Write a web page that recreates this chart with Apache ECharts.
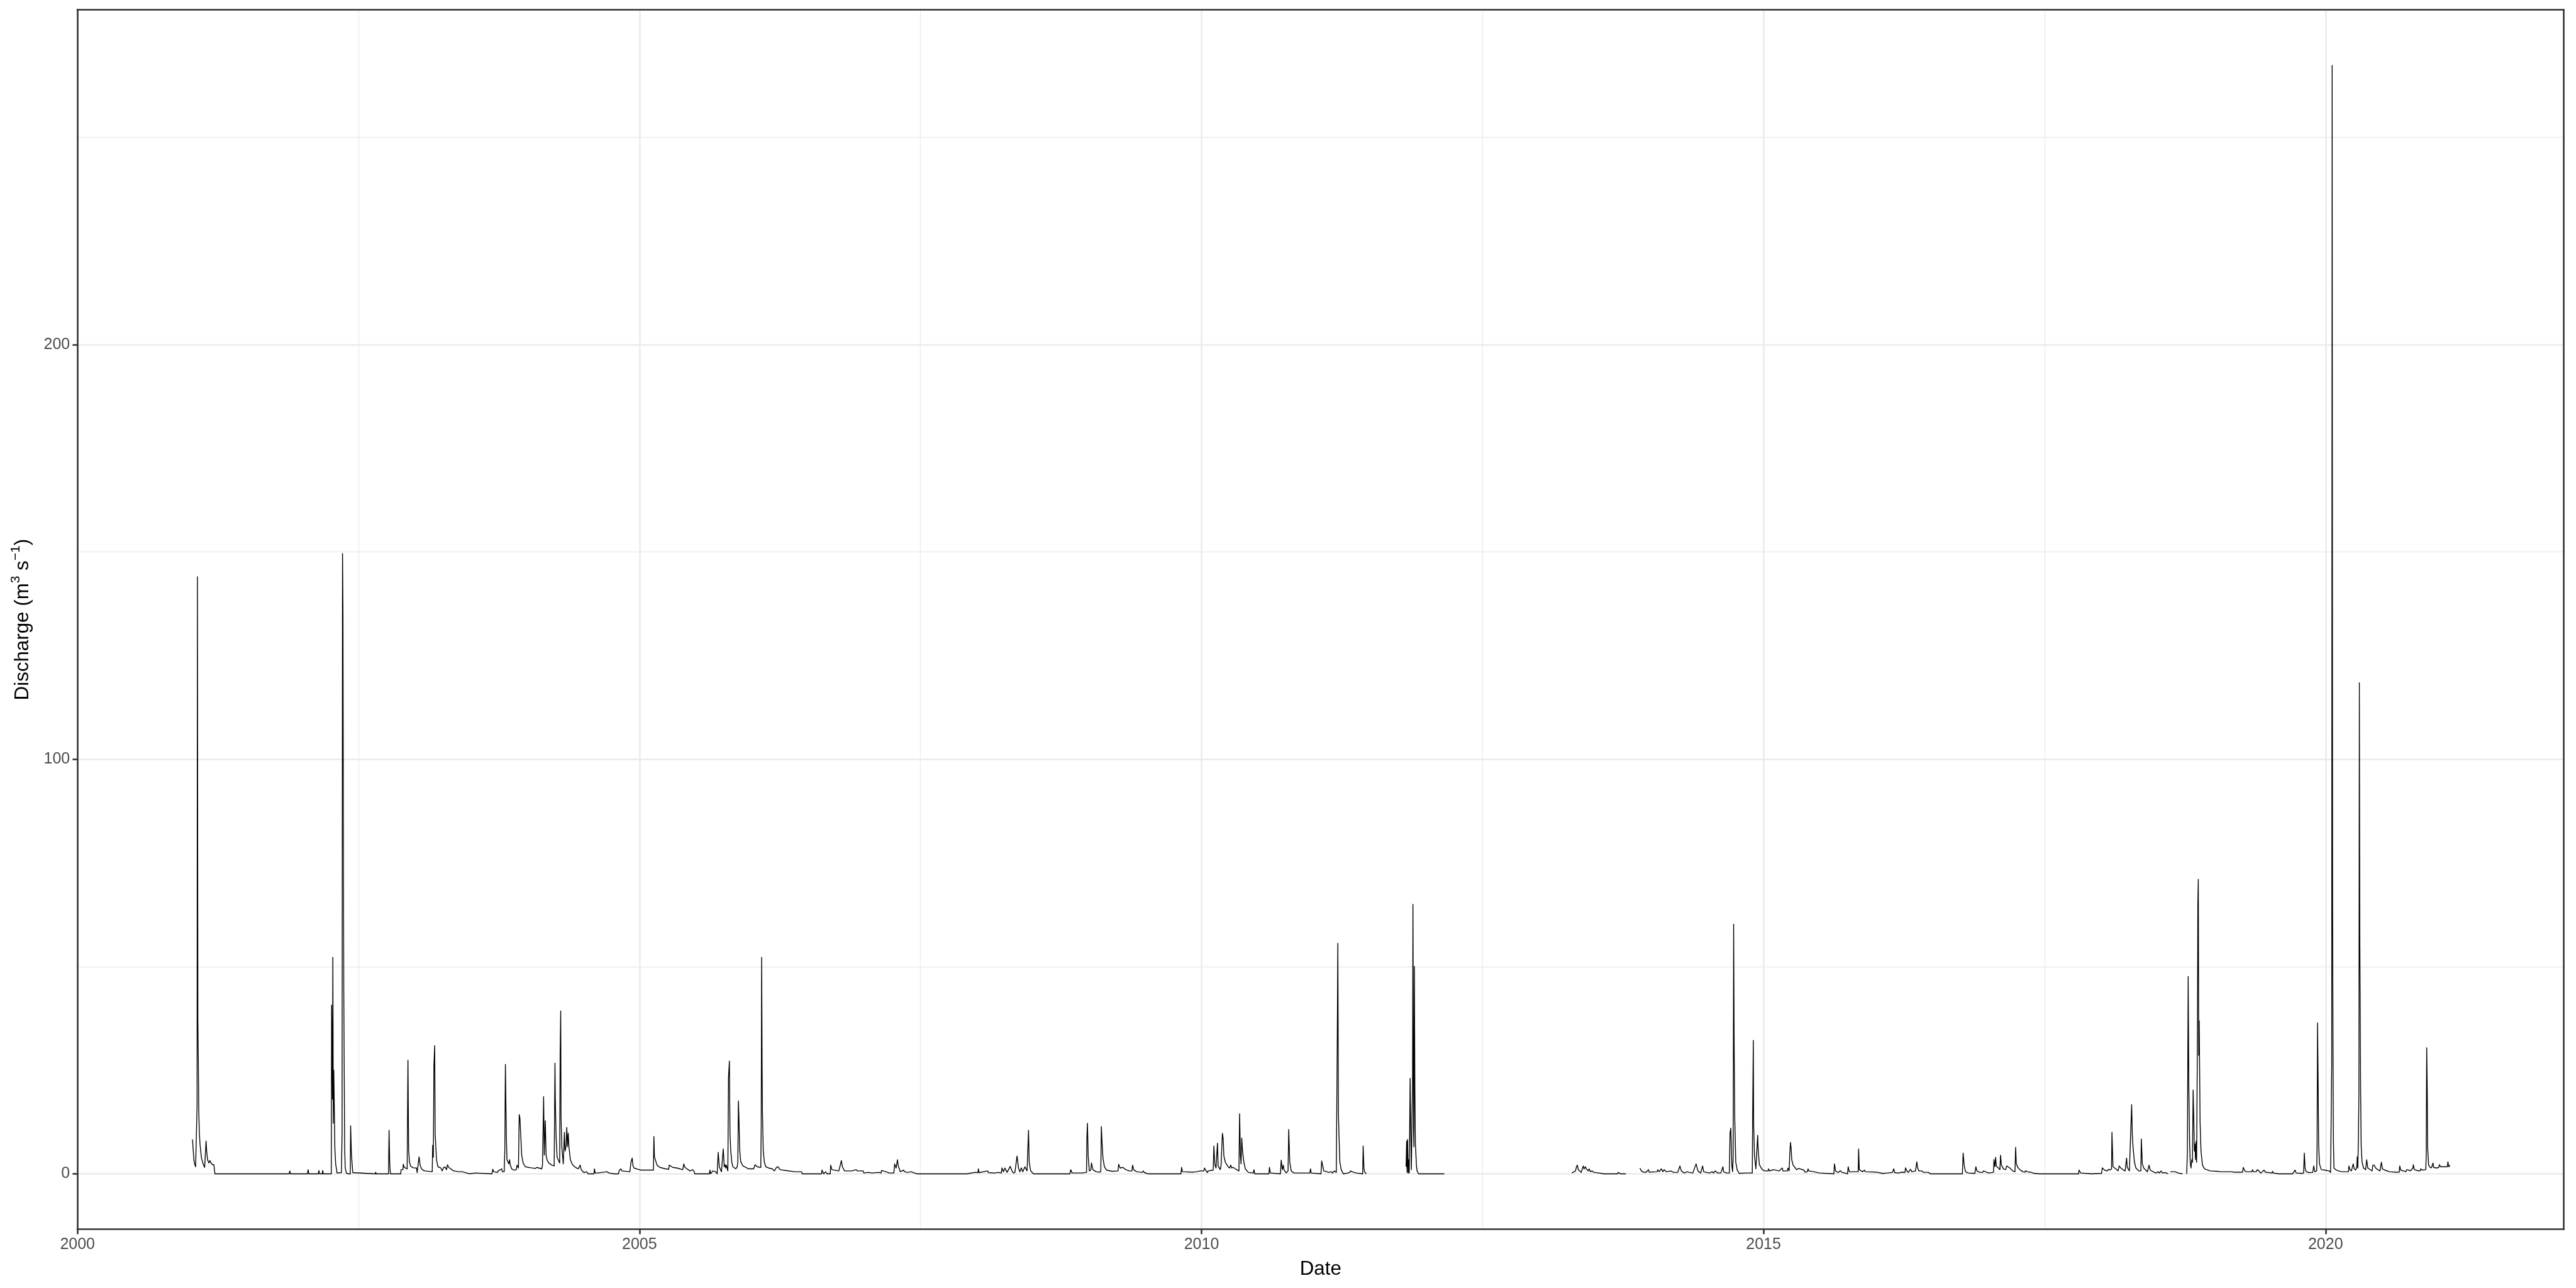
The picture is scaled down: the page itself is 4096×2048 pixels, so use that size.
<!DOCTYPE html>
<html><head><meta charset="utf-8">
<script src="https://cdn.jsdelivr.net/npm/echarts@6/dist/echarts.min.js"></script>
<style>html,body{margin:0;padding:0;background:#fff}#c{width:4096px;height:2048px}</style>
</head><body><div id="c"></div>
<script>
const FONT = '"Liberation Sans", Arial, Helvetica, sans-serif';

// axis breaks / labels
const xTickValues = [2000, 2005, 2010, 2015, 2020];
const xMinorValues = [2002.5, 2007.5, 2012.5, 2017.5];
const yTickValues = [0, 100, 200];
const yMinorValues = [50, 150, 250];
const xTitle = 'Date';
const yTitle = '{b|Discharge (m}{s|3}{b| s}{s|\u22121}{b|)}';

// observations: [decimal year, discharge m3/s]
const flow2001_2002 = [[2001.023,8.3],[2001.036,3.3],[2001.042,2.4],[2001.051,1.7],[2001.060,1.8],[2001.064,16.5],[2001.067,144],[2001.071,36.7],[2001.075,27.6],[2001.079,15.0],[2001.084,10.0],[2001.090,7.2],[2001.103,3.8],[2001.118,2.4],[2001.131,1.55],[2001.140,1.4],[2001.144,7.9],[2001.149,5.5],[2001.157,3.4],[2001.169,2.6],[2001.178,3.2],[2001.188,2.6],[2001.201,2.2],[2001.214,2.2],[2001.218,1.0],[2001.223,0],[2001.883,0],[2001.889,0.7],[2001.895,0],
[2002.046,0],[2002.052,1.0],[2002.058,0],[2002.142,0],[2002.148,0.8],[2002.153,0],[2002.177,0],[2002.182,0.8],[2002.187,0],[2002.258,0],[2002.261,40.7],[2002.265,30.7],[2002.269,18],[2002.272,52.2],[2002.276,12.2],[2002.280,25],[2002.285,15.9],[2002.290,6],[2002.297,2.4],[2002.309,0.2],[2002.348,0.3],[2002.354,10],[2002.358,149.6],[2002.362,135.4],[2002.365,91],[2002.369,44.5],[2002.373,24.5],[2002.377,6.2],[2002.382,1.4],[2002.392,0.2],[2002.405,0],[2002.427,0],[2002.430,11.6],[2002.437,4.8],[2002.443,5.0],[2002.449,0.3],[2002.456,0],[2002.649,0],[2002.653,0.4],[2002.657,0],[2002.767,0],[2002.772,10.5],[2002.778,2.4],[2002.784,0],[2002.876,0],[2002.879,1.0],[2002.895,1.0],[2002.899,2.3],[2002.908,1.55],[2002.933,1.2],[2002.940,27.4],[2002.946,5.9],[2002.953,2.9],[2002.965,1.8],[2002.988,1.45]];

const flow2003_2004 = [[2003.016,1.4],[2003.022,0.3],[2003.031,0.5],[2003.039,4.1],[2003.048,2.1],[2003.061,1.2],[2003.073,0.9],[2003.080,1.2],[2003.092,0.7],[2003.156,0.5],[2003.160,6.9],[2003.166,4.0],[2003.171,26],[2003.178,30.9],[2003.182,9.5],[2003.188,6.7],[2003.194,3.4],[2003.207,1.7],[2003.233,1.4],[2003.245,0.7],[2003.258,1.55],[2003.271,1.65],[2003.283,1.0],[2003.292,2.2],[2003.303,1.55],[2003.347,0.7],[2003.398,0.5],[2003.424,0.5],[2003.487,0],[2003.538,0.2],[2003.545,0],[2003.687,0],[2003.695,1.1],[2003.704,0.5],[2003.736,0.35],[2003.742,0.7],[2003.774,1.2],[2003.780,0.5],[2003.796,0.5],[2003.802,5.7],[2003.807,26.4],[2003.812,16],[2003.816,8.6],[2003.821,3.4],[2003.827,3.3],[2003.838,2.4],[2003.844,3.4],[2003.850,2.2],[2003.863,1.2],[2003.882,0.9],[2003.904,1.0],[2003.910,2.1],[2003.923,1.4],[2003.930,14.3],[2003.936,13.4],[2003.942,10.2],[2003.952,4.5],[2003.965,2.6],[2003.984,1.7],
[2004.035,1.45],[2004.073,1.3],[2004.086,1.55],[2004.130,1.2],[2004.137,2.1],[2004.147,18.6],[2004.153,4.5],[2004.162,12.8],[2004.169,4.5],[2004.178,3.3],[2004.194,2.6],[2004.220,2.1],[2004.241,1.9],[2004.248,26.7],[2004.251,18.3],[2004.258,9.0],[2004.267,4.0],[2004.277,3.4],[2004.290,2.6],[2004.294,29.1],[2004.299,39.3],[2004.302,13.6],[2004.309,6.4],[2004.322,2.4],[2004.328,2.4],[2004.332,10.0],[2004.338,5.5],[2004.347,6.6],[2004.353,11.2],[2004.360,6.6],[2004.366,9.8],[2004.372,6.6],[2004.385,3.4],[2004.404,2.2],[2004.430,1.55],[2004.455,1.2],[2004.472,2.1],[2004.481,1.0],[2004.506,0.3],[2004.529,0.5],[2004.544,0],[2004.595,0],[2004.599,1.2],[2004.606,0.2],[2004.627,0.2],[2004.710,0.5],[2004.729,0.2],[2004.774,0],[2004.814,0],[2004.818,0.7],[2004.834,1.2],[2004.844,0.7],[2004.914,0.5],[2004.924,2.8],[2004.935,3.8],[2004.942,1.9],[2004.952,1.4],[2004.984,1.1],[2005.013,0.9]];

const flow2005_2006 = [[2005.041,0.9],[2005.124,0.9],[2005.128,9.0],[2005.133,4.1],[2005.143,4.0],[2005.156,2.1],[2005.181,1.55],[2005.232,1.2],[2005.260,1.1],[2005.264,2.1],[2005.296,1.55],[2005.334,1.4],[2005.385,1.0],[2005.394,2.4],[2005.404,1.55],[2005.449,0.7],[2005.474,1.0],[2005.487,0.5],[2005.491,0],[2005.621,0],[2005.627,0.9],[2005.633,0],[2005.652,0.7],[2005.678,0.5],[2005.691,0],[2005.700,5.2],[2005.710,1.7],[2005.729,0.5],[2005.739,0.7],[2005.745,6.0],[2005.754,1.7],[2005.761,2.2],[2005.767,1.4],[2005.773,2.1],[2005.786,0.7],[2005.792,23.4],[2005.800,27.2],[2005.805,9.8],[2005.812,5.5],[2005.821,2.8],[2005.831,1.7],[2005.856,1.2],[2005.869,1.7],[2005.875,2.8],[2005.880,17.6],[2005.885,13.1],[2005.892,5.5],[2005.901,2.9],[2005.920,1.9],[2005.945,1.55],[2005.971,1.2],
[2006.015,1.2],[2006.028,2.2],[2006.047,1.7],[2006.079,1.55],[2006.083,11.4],[2006.087,52.2],[2006.091,25.3],[2006.094,14.7],[2006.101,5.5],[2006.111,2.8],[2006.124,1.7],[2006.149,1.4],[2006.181,1.2],[2006.200,0.7],[2006.219,1.55],[2006.232,1.7],[2006.251,1.0],[2006.315,0.75],[2006.378,0.5],[2006.442,0.5],[2006.448,0],[2006.620,0],[2006.624,0.9],[2006.639,0],[2006.656,0.5],[2006.669,0],[2006.697,0],[2006.701,2.1],[2006.712,1.0],[2006.773,0.7],[2006.780,1.4],[2006.796,3.2],[2006.805,1.7],[2006.824,0.7],[2006.888,0.7],[2006.926,1.0],[2006.939,0.7],[2006.990,0.7],[2006.996,0.2]];

const flow2007_2008 = [[2007.038,0.35],[2007.066,0.2],[2007.130,0.35],[2007.149,0.2],[2007.153,0.8],[2007.162,0.5],[2007.206,0.4],[2007.219,0.2],[2007.263,0.2],[2007.270,2.4],[2007.276,2.1],[2007.283,1.4],[2007.295,3.4],[2007.302,1.9],[2007.321,0.5],[2007.349,0.9],[2007.359,0.5],[2007.384,0.35],[2007.416,0.5],[2007.423,0.35],[2007.467,0],[2007.786,0],[2007.792,0.1],[2007.913,0],[2007.983,0.35],
[2008.011,0.3],[2008.015,1.2],[2008.021,0.3],[2008.098,0.7],[2008.104,0.3],[2008.161,0.2],[2008.193,0.35],[2008.219,0.2],[2008.225,1.45],[2008.238,0.5],[2008.251,1.4],[2008.270,0.35],[2008.298,1.8],[2008.314,0.7],[2008.327,0.2],[2008.340,0.35],[2008.359,4.3],[2008.372,1.4],[2008.384,0.5],[2008.397,1.45],[2008.410,0.5],[2008.429,1.7],[2008.448,0.7],[2008.457,1.0],[2008.461,10.5],[2008.467,2.8],[2008.480,0.7],[2008.505,0],[2008.830,0],[2008.836,1.0],[2008.849,0.2],[2008.938,0.2],[2008.977,0.35],[2008.980,8.6],[2008.985,12.2],[2008.992,4.1],[2009.002,0.7],[2009.015,0.9],[2009.021,2.6],[2009.034,1.0],[2009.063,0.5]];

const flow2009_2010 = [[2009.091,0.4],[2009.104,0.5],[2009.109,11.4],[2009.116,7.2],[2009.123,3.8],[2009.136,1.7],[2009.155,0.9],[2009.206,0.6],[2009.257,0.7],[2009.263,2.3],[2009.276,1.4],[2009.285,1.7],[2009.301,1.55],[2009.327,1.0],[2009.358,0.7],[2009.381,0.7],[2009.387,2.1],[2009.397,1.0],[2009.422,0.5],[2009.473,0.35],[2009.482,0.7],[2009.492,0.3],[2009.524,0],[2009.817,0],[2009.823,1.55],[2009.830,0.5],[2009.919,0.4],[2009.957,0.5],[2009.989,0.7],
[2010.021,0.7],[2010.027,1.4],[2010.040,0.75],[2010.053,0.3],[2010.059,0.7],[2010.104,0.9],[2010.110,6.7],[2010.119,2.2],[2010.129,1.4],[2010.142,7.4],[2010.148,1.9],[2010.167,1.0],[2010.174,2.1],[2010.180,2.4],[2010.186,9.8],[2010.193,8.4],[2010.199,4.3],[2010.212,2.8],[2010.225,2.2],[2010.237,1.7],[2010.250,1.4],[2010.260,2.1],[2010.269,1.4],[2010.282,1.55],[2010.301,1.2],[2010.333,0.7],[2010.339,14.5],[2010.346,4.5],[2010.352,2.4],[2010.358,8.6],[2010.365,5.5],[2010.377,2.8],[2010.390,1.2],[2010.416,0.35],[2010.460,0.2],[2010.467,1.0],[2010.473,0],[2010.600,0],[2010.604,1.55],[2010.613,0.2],[2010.702,0],[2010.709,3.3],[2010.719,1.0],[2010.728,2.1],[2010.734,1.0],[2010.753,0.2],[2010.770,0.7],[2010.776,10.7],[2010.785,2.8],[2010.798,0.7],[2010.823,0.2],[2010.906,0.2],[2010.912,0.4],[2010.963,0.2],[2010.970,1.2],[2010.976,0.2],[2011.063,0],[2011.069,3.1],[2011.088,0.7]];

const flow2011a = [[2011.116,0.5],[2011.129,0.35],[2011.154,0.5],[2011.167,0.2],[2011.180,0.7],[2011.199,0.35],[2011.208,32.8],[2011.213,55.6],[2011.218,14.5],[2011.224,8.6],[2011.231,2.8],[2011.243,1.0],[2011.262,0],[2011.301,0.2],[2011.307,0.5],[2011.320,0.35],[2011.326,0.7],[2011.339,0.5],[2011.377,0.2],[2011.434,0],[2011.438,6.7],[2011.445,1.4],[2011.450,0.5],[2011.456,0.7],[2011.466,0]];

const flow2011b = [[2011.820,1.7],[2011.825,7.9],[2011.829,0.35],[2011.833,8.3],[2011.839,0.2],[2011.845,3.4],[2011.848,0.2],[2011.852,11.0],[2011.856,23],[2011.861,11],[2011.867,1.0],[2011.874,0.7],[2011.878,24],[2011.881,65],[2011.887,10.7],[2011.890,6.5],[2011.894,50],[2011.898,20.3],[2011.903,7.2],[2011.912,2.1],[2011.918,0.7],[2011.931,0],[2012.160,0]];

const flow2013a = [[2013.295,0.2],[2013.299,0.5],[2013.327,0.7],[2013.336,1.7],[2013.343,2.1],[2013.352,1.0],[2013.378,0.35],[2013.390,1.4],[2013.397,1.9],[2013.403,1.2],[2013.409,1.4],[2013.416,1.7],[2013.422,1.2],[2013.441,0.7],[2013.448,1.2],[2013.460,0.5],[2013.473,0.7],[2013.480,1.0],[2013.492,0.35],[2013.537,0.2],[2013.581,0],[2013.702,0],[2013.706,0.35],[2013.728,0],[2013.775,0]];

const flow2014_2015 = [[2013.900,1.4],[2013.913,0.7],[2013.932,0.4],[2013.957,0.4],[2013.976,1.0],[2013.983,0.4],
[2014.053,0.5],[2014.059,1.0],[2014.072,0.5],[2014.091,1.2],[2014.104,0.5],[2014.116,1.0],[2014.135,0.5],[2014.174,0.7],[2014.199,0.35],[2014.237,0.35],[2014.256,1.9],[2014.269,0.7],[2014.295,0.2],[2014.320,0.5],[2014.339,0.35],[2014.371,0.2],[2014.400,2.4],[2014.416,0.7],[2014.441,0.2],[2014.458,1.9],[2014.467,0.5],[2014.492,0.35],[2014.518,0.2],[2014.543,0.5],[2014.556,0.2],[2014.569,0.7],[2014.594,0.2],[2014.620,0.2],[2014.639,1.7],[2014.645,0.5],[2014.670,0.2],[2014.696,0.2],[2014.702,9.8],[2014.709,11.0],[2014.718,2.1],[2014.725,0.5],[2014.730,4.1],[2014.734,60.2],[2014.739,29.7],[2014.744,13.3],[2014.753,2.8],[2014.766,0.9],[2014.785,0.1],[2014.836,0.2],[2014.900,0.2],[2014.903,12.8],[2014.909,32.2],[2014.912,12.1],[2014.919,4.5],[2014.932,1.2],[2014.940,1.0],[2014.948,9.3],[2014.953,5.5],[2014.963,2.2],[2014.989,1.0],
[2015.014,0.7],[2015.040,0.7],[2015.044,1.2],[2015.053,0.7],[2015.078,0.9],[2015.091,1.0],[2015.139,0.7],[2015.167,1.4],[2015.173,0.7],[2015.212,0.7],[2015.218,1.4],[2015.228,0.7],[2015.233,4.5],[2015.240,7.6],[2015.246,5.9],[2015.251,3.4],[2015.263,2.1],[2015.275,1.7],[2015.294,1.0],[2015.313,1.3],[2015.320,1.0],[2015.358,0.9],[2015.371,0.4],[2015.390,0.5],[2015.396,1.2],[2015.403,0.7],[2015.447,0.5],[2015.498,0.2],[2015.505,0],[2015.626,0],[2015.631,2.4],[2015.641,0.7],[2015.664,0.3],[2015.683,0.75],[2015.696,0.4],[2015.747,0],[2015.753,1.7],[2015.763,0.5],[2015.804,0.5],[2015.842,0.5],[2015.846,6.0],[2015.852,1.0],[2015.880,0.5],[2015.899,0.9],[2015.906,0.5]];

const flow2016_2017 = [[2016.008,0.4],[2016.059,0.1],[2016.103,0.2],[2016.110,0.4],[2016.148,0.35],[2016.158,1.2],[2016.167,0.3],[2016.199,0.2],[2016.237,0.4],[2016.259,0.35],[2016.263,1.45],[2016.275,0.7],[2016.288,0.35],[2016.307,1.1],[2016.320,0.5],[2016.352,0.7],[2016.364,2.9],[2016.371,1.4],[2016.383,0.7],[2016.409,0.7],[2016.422,0.35],[2016.466,0.35],[2016.485,0],[2016.769,0],[2016.776,5.0],[2016.785,2.1],[2016.797,0.5],[2016.823,0.2],[2016.880,0.1],[2016.889,1.7],[2016.899,0.7],[2016.925,0.35],[2016.950,0.35],[2016.957,0.7],[2016.976,0.5],
[2017.001,0.2],[2017.046,0.35],[2017.050,3.4],[2017.058,1.7],[2017.065,4.0],[2017.071,1.9],[2017.090,1.4],[2017.103,1.0],[2017.109,4.5],[2017.116,2.1],[2017.135,1.2],[2017.154,1.0],[2017.164,1.9],[2017.192,1.4],[2017.205,1.0],[2017.217,0.7],[2017.237,0.5],[2017.243,6.4],[2017.249,2.4],[2017.262,1.55],[2017.281,1.0],[2017.307,0.5],[2017.326,0.4],[2017.332,0.75],[2017.345,0.5],[2017.370,0.4],[2017.383,0.35],[2017.409,0.1],[2017.453,0],[2017.803,0],[2017.807,0.9],[2017.822,0.2],[2017.918,0]];

const flow2018a = [[2018.007,0.1],[2018.014,1.45],[2018.033,0.9],[2018.058,0.7],[2018.071,1.1],[2018.084,0.9],[2018.096,1.2],[2018.100,10.0],[2018.109,1.7],[2018.134,1.2],[2018.154,0.7],[2018.164,1.9],[2018.173,2.2],[2018.179,1.4],[2018.198,1.0],[2018.217,0.7],[2018.230,3.8],[2018.236,1.55],[2018.255,0.7],[2018.275,16.7],[2018.281,9.3],[2018.287,6.6],[2018.300,2.8],[2018.313,1.4],[2018.338,0.7],[2018.357,0.7],[2018.361,8.4],[2018.370,2.4],[2018.383,1.4],[2018.415,0.5],[2018.430,2.1],[2018.440,0.9],[2018.466,0.5],[2018.491,0.2],[2018.510,0.5],[2018.523,0.2],[2018.536,0.7],[2018.549,0.2],[2018.555,0.4],[2018.574,0.3],[2018.599,0]];

const flow2018b = [[2018.619,0.5],[2018.625,0.4],[2018.663,0.5],[2018.689,0.2],[2018.727,0]];

const flow2018c_2019 = [[2018.765,0],[2018.768,2.8],[2018.771,5.2],[2018.778,47.6],[2018.784,20.3],[2018.791,7.1],[2018.797,2.4],[2018.803,1.4],[2018.810,3.4],[2018.816,2.8],[2018.822,20.2],[2018.828,13.1],[2018.833,5.5],[2018.838,7.2],[2018.843,3.4],[2018.848,7.8],[2018.853,2.8],[2018.861,36.6],[2018.864,65],[2018.868,71],[2018.872,28.6],[2018.876,36.9],[2018.884,12.4],[2018.892,5.5],[2018.905,2.1],[2018.924,1.2],[2018.975,0.7],
[2019.039,0.6],[2019.045,0.75],[2019.064,0.5],[2019.153,0.5],[2019.189,0.4],[2019.217,0.4],[2019.262,0.4],[2019.268,1.55],[2019.281,0.75],[2019.293,0.5],[2019.344,0.5],[2019.351,1.0],[2019.357,0.5],[2019.383,0.5],[2019.393,1.0],[2019.408,0.7],[2019.421,0.2],[2019.434,0.4],[2019.453,0.9],[2019.465,0.4],[2019.523,0.2],[2019.529,0.6],[2019.535,0.2],[2019.586,0],[2019.707,0],[2019.729,0.9],[2019.739,0.2],[2019.790,0.1],[2019.805,0.2],[2019.811,5.0],[2019.818,1.4],[2019.828,0.5],[2019.854,0.3],[2019.886,0.35],[2019.895,1.9],[2019.905,0.5],[2019.921,0.7],[2019.925,6.9],[2019.929,36.4],[2019.934,22.1],[2019.939,6.7],[2019.946,2.4],[2019.962,1.0],[2019.994,0.9]];

const flow2020_2021 = [[2020.032,0.7],[2020.045,0.35],[2020.051,0.2],[2020.055,26.2],[2020.059,267.3],[2020.063,63.3],[2020.067,26],[2020.070,8],[2020.075,1.4],[2020.083,1.4],[2020.090,1.0],[2020.115,0.7],[2020.147,0.5],[2020.204,0.5],[2020.208,1.9],[2020.217,1.0],[2020.230,0.7],[2020.246,2.4],[2020.255,1.2],[2020.268,0.9],[2020.278,1.7],[2020.282,4.1],[2020.287,1.4],[2020.293,9.5],[2020.297,19.1],[2020.301,118.4],[2020.305,57],[2020.309,35.3],[2020.312,20],[2020.317,6.9],[2020.325,2.8],[2020.338,1.4],[2020.357,1.0],[2020.366,3.4],[2020.376,1.4],[2020.402,0.9],[2020.414,0.7],[2020.421,2.1],[2020.433,2.1],[2020.446,1.4],[2020.465,1.0],[2020.484,0.7],[2020.497,2.8],[2020.506,1.2],[2020.529,0.9],[2020.567,0.5],[2020.618,0.4],[2020.656,0.4],[2020.660,1.9],[2020.669,0.9],[2020.695,0.7],[2020.714,0.5],[2020.723,1.0],[2020.733,0.7],[2020.758,0.75],[2020.777,1.4],[2020.781,2.2],[2020.790,1.0],[2020.822,0.75],[2020.841,0.7],[2020.847,1.2],[2020.860,0.9],[2020.892,1.0],[2020.896,4.8],[2020.900,30.4],[2020.905,19.7],[2020.908,6.6],[2020.917,2.1],[2020.930,1.55],[2020.943,1.45],[2020.956,2.6],[2020.962,1.55],[2020.987,1.4],
[2021.007,1.55],[2021.013,2.2],[2021.023,1.7],[2021.051,1.7],[2021.083,1.7],[2021.089,2.9],[2021.096,1.7],[2021.108,2.1]];

// continuous records separated by missing-data gaps
const records = [
  [].concat(flow2001_2002, flow2003_2004, flow2005_2006, flow2007_2008, flow2009_2010, flow2011a),
  flow2011b,
  flow2013a,
  [].concat(flow2014_2015, flow2016_2017, flow2018a),
  flow2018b,
  [].concat(flow2018c_2019, flow2020_2021)
];

const seriesData = [];
records.forEach((rec, i) => {
  if (i > 0) {
    const prev = records[i - 1];
    seriesData.push([(prev[prev.length - 1][0] + rec[0][0]) / 2, null]);
  }
  rec.forEach(p => seriesData.push(p));
});

const XMIN = 2000.0, XMAX = 2022.118;
const YMIN = -13.37, YMAX = 280.7;

const borderStyle = {color: '#333333', width: 2.6, cap: 'square'};
const majorGrid = {color: '#EBEBEB', width: 2.6};
const minorGrid = {color: '#EBEBEB', width: 1.3};

function borderAxis(pos, isX) {
  return {
    type: 'value', position: pos, z: 5,
    min: isX ? XMIN : YMIN, max: isX ? XMAX : YMAX,
    axisLine: {show: true, onZero: false, lineStyle: borderStyle},
    axisTick: {show: false}, axisLabel: {show: false}, splitLine: {show: false}
  };
}

const chart = echarts.init(document.getElementById('c'), null, {renderer: 'canvas', width: 4096, height: 2048});
chart.setOption({
  animation: false,
  backgroundColor: '#ffffff',
  grid: {left: 123.2, right: 19.7, top: 15.7, bottom: 93.4, containLabel: false},
  xAxis: [
    {
      type: 'value', position: 'bottom', min: XMIN, max: XMAX, z: 0,
      axisLine: {show: false, onZero: false},
      axisTick: {show: true, customValues: xTickValues, length: 7.8, lineStyle: {color: '#333333', width: 2.6}},
      axisLabel: {show: true, customValues: xTickValues, formatter: v => String(Math.round(v)),
        color: '#4D4D4D', fontSize: 25, fontFamily: FONT, margin: 12, lineHeight: 26},
      splitLine: {show: true, lineStyle: majorGrid},
      name: xTitle, nameLocation: 'middle', nameGap: 48,
      nameTextStyle: {color: '#000000', fontSize: 31.3, fontFamily: FONT, lineHeight: 32, verticalAlign: 'top'}
    },
    {
      type: 'value', position: 'bottom', min: XMIN, max: XMAX, z: 0,
      axisLine: {show: false, onZero: false},
      axisTick: {show: false, customValues: xMinorValues},
      axisLabel: {show: false, customValues: xMinorValues},
      splitLine: {show: true, lineStyle: minorGrid}
    },
    borderAxis('bottom', true),
    borderAxis('top', true)
  ],
  yAxis: [
    {
      type: 'value', position: 'left', min: YMIN, max: YMAX, z: 0,
      axisLine: {show: false, onZero: false},
      axisTick: {show: true, customValues: yTickValues, length: 7.8, lineStyle: {color: '#333333', width: 2.6}},
      axisLabel: {show: true, customValues: yTickValues, formatter: v => String(Math.round(v)),
        color: '#4D4D4D', fontSize: 25, fontFamily: FONT, margin: 12},
      splitLine: {show: true, lineStyle: majorGrid},
      name: yTitle, nameLocation: 'middle', nameRotate: 90, nameGap: 62.8,
      nameTextStyle: {
        color: '#000000', fontSize: 31.3, fontFamily: FONT, lineHeight: 44,
        rich: {
          b: {fontSize: 31.3, lineHeight: 44, fontFamily: FONT, color: '#000000'},
          s: {fontSize: 21, lineHeight: 15, verticalAlign: 'top', fontFamily: FONT, color: '#000000'}
        }
      }
    },
    {
      type: 'value', position: 'left', min: YMIN, max: YMAX, z: 0,
      axisLine: {show: false, onZero: false},
      axisTick: {show: false, customValues: yMinorValues},
      axisLabel: {show: false, customValues: yMinorValues},
      splitLine: {show: true, lineStyle: minorGrid}
    },
    borderAxis('left', false),
    borderAxis('right', false)
  ],
  series: [{
    type: 'line', xAxisIndex: 0, yAxisIndex: 0,
    data: seriesData,
    showSymbol: false, symbol: 'none', connectNulls: false, smooth: false,
    lineStyle: {color: '#000000', width: 1.4, join: 'round'},
    silent: true, z: 2, clip: true
  }]
});
</script>
</body></html>
